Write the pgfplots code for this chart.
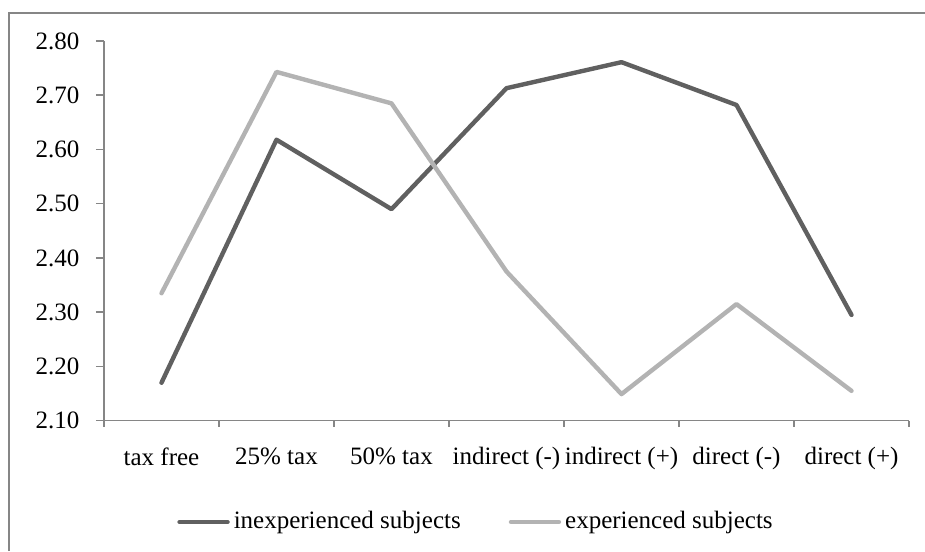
\documentclass[border=0pt]{standalone}
\usepackage{fontspec}
\setmainfont{Liberation Serif}
\usepackage{pgfplots}
\pgfplotsset{compat=1.18}
\definecolor{darkline}{RGB}{96,96,96}
\definecolor{lightline}{RGB}{179,179,179}
\definecolor{axisgray}{RGB}{134,134,134}

\begin{document}
\fontsize{12.5pt}{15pt}\selectfont
\begin{tikzpicture}[x=1pt,y=1pt]
% picture area: 925 x 551 px at 0.5pt per px
\useasboundingbox (-52,-65.15) rectangle (410.5,210.35);
\draw[axisgray, line width=0.75pt] (-47.5,-65.15) -- (-47.5,203.85) -- (410.5,203.85);
\begin{axis}[
  scale only axis, width=402.5pt, height=189.85pt,
  at={(0,0)}, anchor=south west,
  xmin=-0.5, xmax=6.5, ymin=2.1, ymax=2.8,
  axis lines*=left,
  axis line style={axisgray, line width=0.75pt},
  tick align=outside,
  tick style={axisgray, line width=0.75pt},
  major tick length=4pt, minor tick length=3pt,
  xtick={0,1,2,3,4,5,6},
  xticklabels={tax free, 25\% tax, 50\% tax, indirect (-), indirect (+), direct (-), direct (+)},
  xticklabel style={yshift=-5pt},
  major x tick style={draw=none},
  minor xtick={-0.5,0.5,1.5,2.5,3.5,4.5,5.5,6.5},
  ytick={2.1,2.2,2.3,2.4,2.5,2.6,2.7,2.8},
  yticklabel style={xshift=-4pt, /pgf/number format/.cd, fixed, fixed zerofill, precision=2, assume math mode=true},
  legend style={at={(0.4634,-0.2668)}, anchor=center, draw=none, fill=none,
    /tikz/every even column/.append style={column sep=22pt}},
  legend columns=2,
  legend image code/.code={\draw[#1, line cap=round] (0pt,0pt) -- (24pt,0pt);},
]
\addplot[darkline, line width=2.2pt, line cap=round, line join=round] coordinates {
(0,2.170) (1,2.618) (2,2.490) (3,2.713) (4,2.761) (5,2.682) (6,2.295)
};
\addlegendentry{inexperienced subjects}
\addplot[lightline, line width=2.2pt, line cap=round, line join=round] coordinates {
(0,2.335) (1,2.743) (2,2.685) (3,2.375) (4,2.149) (5,2.315) (6,2.155)
};
\addlegendentry{experienced subjects}
\end{axis}
\end{tikzpicture}
\end{document}
